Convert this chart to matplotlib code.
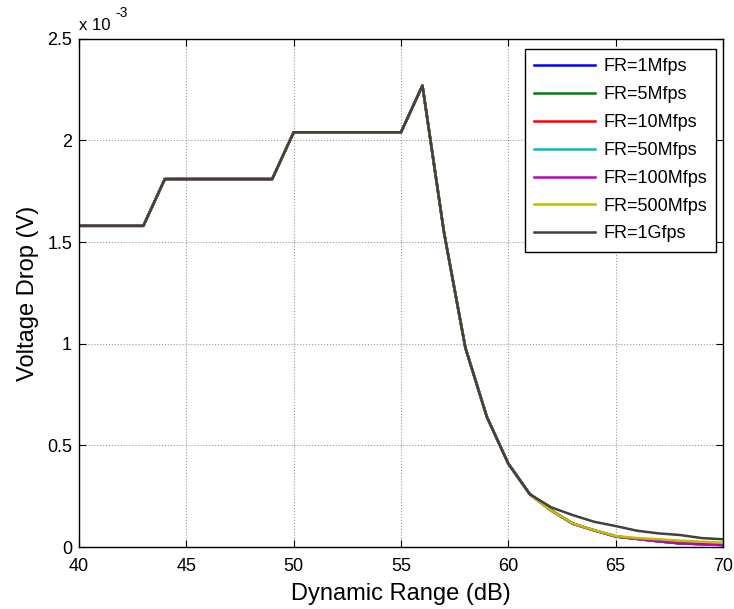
import matplotlib
matplotlib.use("Agg")
import matplotlib.pyplot as plt
from matplotlib.ticker import FuncFormatter

plt.rcParams['font.family'] = ['Liberation Sans', 'DejaVu Sans']

# dynamic range (dB)
dr = list(range(40, 71))

# shared part of the curves, 40..61 dB (volts)
common = [1.58e-3, 1.58e-3, 1.58e-3, 1.58e-3, 1.81e-3, 1.81e-3, 1.81e-3,
          1.81e-3, 1.81e-3, 1.81e-3, 2.04e-3, 2.04e-3, 2.04e-3, 2.04e-3,
          2.04e-3, 2.04e-3, 2.27e-3, 1.55e-3, 0.98e-3, 0.64e-3, 0.41e-3,
          0.26e-3]

# tails, 62..70 dB
tail_low = [0.18e-3, 0.115e-3, 0.082e-3, 0.052e-3, 0.040e-3, 0.028e-3,
            0.018e-3, 0.014e-3, 0.010e-3]
tail_500m = [0.18e-3, 0.116e-3, 0.083e-3, 0.054e-3, 0.044e-3, 0.038e-3,
             0.031e-3, 0.026e-3, 0.021e-3]
tail_1g = [0.195e-3, 0.157e-3, 0.124e-3, 0.103e-3, 0.080e-3, 0.067e-3,
           0.059e-3, 0.044e-3, 0.038e-3]

labels = ['FR=1Mfps', 'FR=5Mfps', 'FR=10Mfps', 'FR=50Mfps',
          'FR=100Mfps', 'FR=500Mfps', 'FR=1Gfps']
tails = [tail_low, tail_low, tail_low, tail_low, tail_low, tail_500m, tail_1g]
colors = ['#0000ff', '#008000', '#ff0000', '#00bfbf', '#bf00bf',
          '#bfbf00', '#404040']

fig = plt.figure(figsize=(7.34, 6.09), dpi=100)
ax = fig.add_axes([0.1076, 0.1018, 0.8774, 0.8345])

for lab, t, c in zip(labels, tails, colors):
    ax.plot(dr, common + t, color=c, lw=1.8, label=lab)

ax.set_xlim(40, 70)
ax.set_ylim(0, 2.5e-3)
ax.set_xticks(range(40, 71, 5))
ax.set_yticks([0, 0.5e-3, 1e-3, 1.5e-3, 2e-3, 2.5e-3])
ax.yaxis.set_major_formatter(FuncFormatter(lambda v, p: '%g' % round(v * 1e3, 3)))

ax.grid(True, color='0.6', ls=':', lw=0.8)
ax.tick_params(direction='in', top=True, right=True, length=5, width=0.8,
               labelsize=13)
ax.tick_params(axis='x', pad=8)
ax.tick_params(axis='y', pad=5)
for s in ax.spines.values():
    s.set_linewidth(1.0)

ax.set_xlabel('Dynamic Range (dB)', fontsize=17, labelpad=6)
ax.set_ylabel('Voltage Drop (V)', fontsize=17, labelpad=6)

ax.text(0.0, 1.012, 'x 10', transform=ax.transAxes, fontsize=12,
        ha='left', va='bottom')
ax.text(0.057, 1.036, '-3', transform=ax.transAxes, fontsize=10,
        ha='left', va='bottom')

leg = ax.legend(loc='upper right', bbox_to_anchor=(0.989, 0.979),
                borderaxespad=0, fontsize=13, handlelength=3.4,
                handletextpad=0.45, labelspacing=0.6, borderpad=0.5,
                fancybox=False, framealpha=1, edgecolor='black')
leg.get_frame().set_linewidth(1.0)

fig.savefig('out.png', dpi=100, facecolor='white')
